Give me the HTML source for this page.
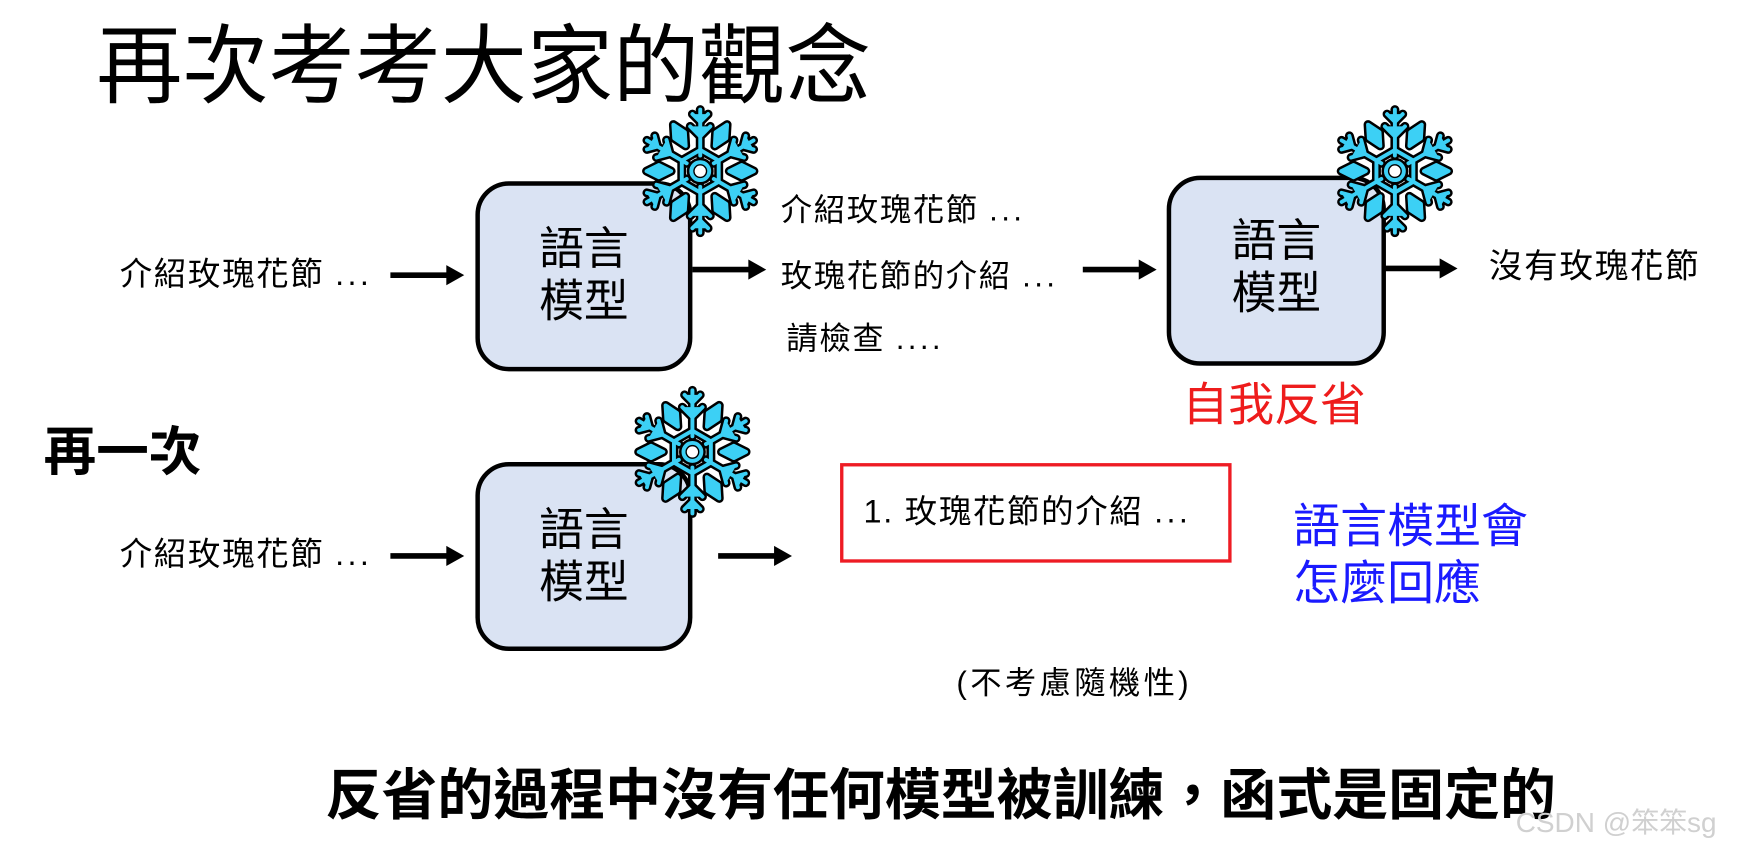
<!DOCTYPE html>
<html><head><meta charset="utf-8">
<style>
html,body{margin:0;padding:0;background:#fff;width:1754px;height:852px;overflow:hidden}
#c{position:absolute;left:0;top:0;width:1568px;height:762px;transform:scale(1.1186);transform-origin:0 0;font-family:"Liberation Sans","Noto Sans CJK TC",sans-serif;color:#000}
.t{position:absolute;white-space:nowrap;line-height:1}
.s{letter-spacing:1.5px}
.box{position:absolute;background:#dae3f3;border:4px solid #000;border-radius:30px;box-sizing:border-box}
.bt{position:absolute;left:0;right:0;text-align:center;font-size:40px;line-height:47px}
svg.sf{position:absolute}
svg.ar{position:absolute;overflow:visible}
</style></head><body>
<div id="c">
<svg width="0" height="0" style="position:absolute">
<defs>
<g id="arm">
 <line x1="60" y1="46" x2="60" y2="5"/>
 <polyline points="51,20 60,29 69,20"/>
 <polyline points="53,9 60,16 67,9"/>
</g>
<g id="dia"><polygon points="60,12 65.5,23 60,34 54.5,23" transform="rotate(30 60 60)"/></g>
<g id="flake">
 <use href="#arm"/><use href="#arm" transform="rotate(60 60 60)"/><use href="#arm" transform="rotate(120 60 60)"/>
 <use href="#arm" transform="rotate(180 60 60)"/><use href="#arm" transform="rotate(240 60 60)"/><use href="#arm" transform="rotate(300 60 60)"/>
 <use href="#dia"/><use href="#dia" transform="rotate(60 60 60)"/><use href="#dia" transform="rotate(120 60 60)"/>
 <use href="#dia" transform="rotate(180 60 60)"/><use href="#dia" transform="rotate(240 60 60)"/><use href="#dia" transform="rotate(300 60 60)"/>
 <polygon points="60,41 76.5,50.5 76.5,69.5 60,79 43.5,69.5 43.5,50.5" fill="none"/>
 <circle cx="60" cy="60" r="8" fill="none"/>
</g>
<g id="sfl">
 <use href="#flake" stroke="#000" stroke-width="8" fill="#000" stroke-linejoin="round" stroke-linecap="round"/>
 <use href="#flake" stroke="#3cd0f5" stroke-width="3.5" fill="#3cd0f5" stroke-linejoin="round" stroke-linecap="round"/>
 <circle cx="60" cy="60" r="5" fill="#fff"/>
</g>
<g id="arr"><line x1="0" y1="0" x2="52" y2="0" stroke="#000" stroke-width="5"/><polygon points="50,-9 66,0 50,9" fill="#000"/></g>
</defs>
</svg>

<div class="t" style="left:86px;top:22px;font-size:77px">再次考考大家的觀念</div>

<!-- row 1 -->
<div class="t s" style="left:107px;top:232px;font-size:29px">介紹玫瑰花節 <span style="letter-spacing:3px">...</span></div>
<svg class="ar" style="left:349px;top:246px" width="1" height="1"><use href="#arr"/></svg>
<div class="box" style="left:425px;top:162px;width:194px;height:170px">
 <div class="bt" style="top:34px">語言<br>模型</div>
</div>
<svg class="sf" style="left:566px;top:92px" width="120" height="122" viewBox="0 0 120 120"><use href="#sfl"/></svg>
<svg class="ar" style="left:619px;top:241px" width="1" height="1"><use href="#arr"/></svg>
<div class="t s" style="left:698px;top:174px;font-size:28px">介紹玫瑰花節 <span style="letter-spacing:3px">...</span></div>
<div class="t s" style="left:698px;top:233px;font-size:28px">玫瑰花節的介紹 <span style="letter-spacing:3px">...</span></div>
<div class="t s" style="left:703px;top:289px;font-size:28px">請檢查 <span style="letter-spacing:3px">....</span></div>
<svg class="ar" style="left:968px;top:241px" width="1" height="1"><use href="#arr"/></svg>
<div class="box" style="left:1043px;top:157px;width:196px;height:170px">
 <div class="bt" style="top:32px">語言<br>模型</div>
</div>
<svg class="sf" style="left:1187px;top:92px" width="120" height="122" viewBox="0 0 120 120"><use href="#sfl"/></svg>
<svg class="ar" style="left:1237px;top:240px" width="1" height="1"><use href="#arr"/></svg>
<div class="t s" style="left:1331px;top:224px;font-size:30px">沒有玫瑰花節</div>
<div class="t" style="left:1057px;top:342px;font-size:41px;color:#ee1c1c">自我反省</div>

<!-- row 2 -->
<div class="t" style="left:39px;top:380px;font-size:47px;font-weight:bold">再一次</div>
<div class="t s" style="left:107px;top:482px;font-size:29px">介紹玫瑰花節 <span style="letter-spacing:3px">...</span></div>
<svg class="ar" style="left:349px;top:497px" width="1" height="1"><use href="#arr"/></svg>
<div class="box" style="left:425px;top:413px;width:194px;height:169px">
 <div class="bt" style="top:34px">語言<br>模型</div>
</div>
<svg class="sf" style="left:559px;top:343px" width="120" height="122" viewBox="0 0 120 120"><use href="#sfl"/></svg>
<svg class="ar" style="left:642px;top:497px" width="1" height="1"><use href="#arr"/></svg>
<div style="position:absolute;left:751px;top:414px;width:350px;height:89px;border:3px solid #ee1c24;box-sizing:border-box"></div>
<div class="t s" style="left:772px;top:444px;font-size:29px">1. 玫瑰花節的介紹 <span style="letter-spacing:3px">...</span></div>
<div class="t" style="left:1156px;top:450px;font-size:42px;color:#1a1aff">語言模型會</div>
<div class="t" style="left:1156px;top:501px;font-size:42px;color:#1a1aff">怎麼回應</div>
<div class="t" style="left:855px;top:597px;font-size:28px;letter-spacing:3px">(不考慮隨機性)</div>

<div class="t" style="left:291px;top:686px;font-size:50px;font-weight:bold">反省的過程中沒有任何模型被訓練，函式是固定的</div>
<div class="t" style="left:1355px;top:724px;font-size:25px;color:#d0d0d0">CSDN @笨笨sg</div>
</div>
</body></html>
